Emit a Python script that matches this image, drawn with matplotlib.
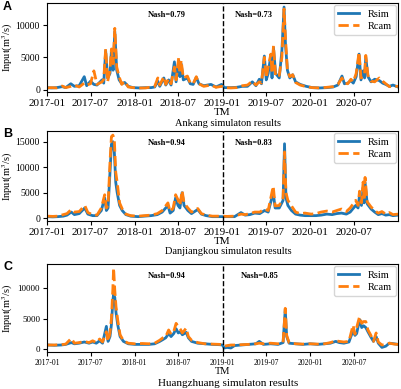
import numpy as np
import pandas as pd
import matplotlib
matplotlib.use("Agg")
import matplotlib.pyplot as plt
import matplotlib.dates as mdates

plt.rcParams['font.family'] = ['Liberation Serif', 'DejaVu Serif']
plt.rcParams['mathtext.fontset'] = 'stix'

# Ankang
dates_a = ["2017-01-01", "2017-01-20", "2017-02-10", "2017-03-05", "2017-03-20", "2017-04-10", "2017-04-25",
           "2017-05-15", "2017-06-05", "2017-06-15", "2017-07-01", "2017-07-15", "2017-07-28", "2017-08-18",
           "2017-08-25", "2017-09-02", "2017-09-10", "2017-09-20", "2017-09-26", "2017-10-03", "2017-10-10",
           "2017-10-18", "2017-10-28", "2017-11-08", "2017-11-20", "2017-12-05", "2017-12-25", "2018-01-20",
           "2018-02-15", "2018-03-10", "2018-03-25", "2018-04-07", "2018-04-15", "2018-05-02", "2018-05-10",
           "2018-05-22", "2018-06-01", "2018-06-15", "2018-06-22", "2018-07-03", "2018-07-08", "2018-07-13",
           "2018-07-22", "2018-08-08", "2018-08-20", "2018-09-01", "2018-09-14", "2018-09-25", "2018-10-15",
           "2018-11-14", "2018-12-05", "2018-12-28", "2019-01-10", "2019-02-05", "2019-03-01", "2019-03-25",
           "2019-04-15", "2019-05-05", "2019-05-20", "2019-06-03", "2019-06-12", "2019-06-24", "2019-07-02",
           "2019-07-10", "2019-07-21", "2019-07-26", "2019-08-01", "2019-08-10", "2019-08-25", "2019-09-05",
           "2019-09-14", "2019-09-20", "2019-09-28", "2019-10-08", "2019-10-20", "2019-11-01", "2019-11-20",
           "2019-12-15", "2020-01-10", "2020-02-10", "2020-03-10", "2020-04-05", "2020-04-25", "2020-05-12",
           "2020-05-22", "2020-06-05", "2020-06-18", "2020-06-28", "2020-07-10", "2020-07-22", "2020-07-30",
           "2020-08-08", "2020-08-14", "2020-08-19", "2020-08-28", "2020-09-10", "2020-09-25", "2020-10-14",
           "2020-10-28", "2020-11-10", "2020-11-25", "2020-12-10", "2020-12-31"]
rsim_a = [300, 250, 300, 450, 300, 900, 500, 600, 2000, 600, 1300, 800, 700, 1500, 1000, 6000, 1800, 2500,
          6000, 3000, 9000, 3000, 1500, 900, 1100, 500, 300, 250, 300, 300, 400, 1300, 500, 1800, 700, 1500,
          700, 4300, 1200, 4500, 2000, 4000, 1500, 1800, 900, 800, 1900, 900, 600, 800, 400, 800, 300, 300,
          350, 500, 500, 1200, 600, 1600, 900, 5200, 1500, 2500, 5300, 1800, 6500, 2500, 1800, 6000, 12800,
          7000, 3000, 1800, 2300, 1200, 800, 500, 300, 250, 300, 400, 700, 2100, 900, 1000, 1400, 1000, 2000,
          5500, 1500, 2900, 1800, 5000, 2000, 1200, 1600, 1400, 1000, 800, 500, 700, 400]
rcam_a = [250, 300, 250, 550, 300, 500, 700, 400, 1000, 700, 900, 2900, 800, 1200, 1600, 6300, 1200, 3000,
          6300, 4000, 9500, 3500, 2000, 800, 1300, 400, 300, 250, 250, 400, 500, 1800, 700, 2000, 800, 1700,
          900, 3500, 1500, 5000, 2500, 4500, 1800, 2100, 1000, 900, 2000, 900, 500, 700, 350, 500, 300, 250,
          300, 600, 700, 1300, 700, 1200, 1000, 5000, 1800, 3500, 5500, 2500, 6800, 2000, 2200, 5000, 12500,
          8000, 3000, 2000, 2300, 1100, 700, 450, 300, 250, 350, 450, 800, 1800, 1000, 900, 1600, 1200, 2500,
          5800, 1800, 2000, 2500, 5300, 2200, 1300, 1200, 1800, 1300, 900, 450, 500, 500]

# Danjiangkou
dates_b = ["2017-01-01", "2017-01-25", "2017-02-15", "2017-03-10", "2017-03-25", "2017-04-12", "2017-04-25",
           "2017-05-15", "2017-06-07", "2017-06-20", "2017-07-10", "2017-07-28", "2017-08-15", "2017-08-29",
           "2017-09-05", "2017-09-12", "2017-09-20", "2017-09-26", "2017-10-02", "2017-10-08", "2017-10-14",
           "2017-10-20", "2017-10-30", "2017-11-10", "2017-11-25", "2017-12-15", "2018-01-15", "2018-02-10",
           "2018-03-10", "2018-04-05", "2018-04-25", "2018-05-19", "2018-05-28", "2018-06-10", "2018-06-20",
           "2018-06-30", "2018-07-08", "2018-07-17", "2018-07-25", "2018-08-10", "2018-08-25", "2018-09-20",
           "2018-10-05", "2018-10-25", "2018-11-20", "2018-12-20", "2019-01-20", "2019-02-20", "2019-03-19",
           "2019-04-05", "2019-04-25", "2019-05-15", "2019-06-05", "2019-06-25", "2019-07-10", "2019-07-31",
           "2019-08-08", "2019-08-25", "2019-09-10", "2019-09-16", "2019-09-22", "2019-09-30", "2019-10-15",
           "2019-11-01", "2019-11-20", "2019-12-10", "2020-01-05", "2020-01-25", "2020-02-15", "2020-03-10",
           "2020-04-01", "2020-04-20", "2020-05-10", "2020-05-30", "2020-06-15", "2020-07-08", "2020-07-18",
           "2020-07-24", "2020-08-01", "2020-08-08", "2020-08-12", "2020-08-16", "2020-08-25", "2020-09-10",
           "2020-09-25", "2020-10-10", "2020-10-25", "2020-11-10", "2020-11-25", "2020-12-10", "2020-12-31"]
rsim_b = [300, 250, 300, 400, 600, 1200, 700, 900, 2000, 800, 500, 500, 1500, 4000, 1500, 2000, 9000, 14500,
          15000, 13000, 7000, 5000, 2500, 1500, 700, 400, 300, 400, 500, 700, 1200, 2500, 1000, 1500, 4000,
          2500, 2000, 5000, 2500, 1500, 900, 1700, 800, 500, 300, 300, 300, 300, 1100, 600, 700, 1000, 900,
          1500, 1200, 5000, 2000, 2000, 3500, 14600, 4000, 2500, 1500, 800, 600, 500, 500, 500, 600, 800,
          700, 900, 1000, 800, 1200, 2500, 2000, 4500, 2500, 6000, 3000, 7000, 2800, 1800, 1200, 700, 900,
          600, 700, 500, 600]
rcam_b = [400, 350, 400, 700, 900, 1700, 1200, 1300, 2500, 1100, 700, 600, 2000, 4600, 2000, 2500, 11000,
          16000, 16300, 15500, 9000, 7000, 3000, 1800, 800, 500, 400, 500, 600, 900, 1500, 3000, 1300, 2000,
          4600, 3600, 2500, 5400, 3000, 2000, 1200, 1900, 900, 600, 400, 400, 350, 400, 800, 700, 900, 1200,
          1200, 1800, 1500, 6300, 2400, 2500, 4000, 13000, 5000, 3500, 2400, 1200, 900, 1000, 800, 900, 1200,
          1400, 1200, 1500, 1800, 1300, 2000, 3500, 2500, 5300, 3000, 7100, 3500, 8000, 3200, 2200, 1500,
          1000, 1300, 800, 1100, 700, 800]

# Huangzhuang
dates_c = ["2017-01-01", "2017-02-01", "2017-03-01", "2017-03-20", "2017-04-12", "2017-04-25", "2017-05-15",
           "2017-06-05", "2017-06-25", "2017-07-10", "2017-07-25", "2017-08-08", "2017-08-20", "2017-09-05",
           "2017-09-12", "2017-09-20", "2017-09-26", "2017-10-02", "2017-10-05", "2017-10-10", "2017-10-15",
           "2017-10-22", "2017-11-01", "2017-11-15", "2017-12-05", "2018-01-01", "2018-02-01", "2018-03-01",
           "2018-03-25", "2018-04-15", "2018-04-28", "2018-05-10", "2018-05-22", "2018-06-01", "2018-06-12",
           "2018-06-22", "2018-07-01", "2018-07-10", "2018-07-18", "2018-08-03", "2018-08-12", "2018-08-25",
           "2018-09-20", "2018-10-20", "2018-11-20", "2018-12-20", "2019-01-01", "2019-01-08", "2019-01-20",
           "2019-02-05", "2019-02-20", "2019-03-20", "2019-04-20", "2019-05-20", "2019-06-03", "2019-06-20",
           "2019-07-20", "2019-08-20", "2019-09-10", "2019-09-19", "2019-09-25", "2019-10-05", "2019-11-01",
           "2019-12-01", "2020-01-01", "2020-02-01", "2020-03-01", "2020-03-25", "2020-04-16", "2020-05-01",
           "2020-05-20", "2020-06-10", "2020-06-27", "2020-07-05", "2020-07-12", "2020-07-24", "2020-08-02",
           "2020-08-10", "2020-08-19", "2020-08-28", "2020-09-08", "2020-09-20", "2020-10-01", "2020-10-10",
           "2020-10-25", "2020-11-10", "2020-11-25", "2020-12-15", "2020-12-31"]
rsim_c = [600, 550, 600, 700, 1000, 800, 900, 1100, 900, 1100, 900, 1300, 900, 3700, 1200, 2000, 4000, 8000,
          9000, 8500, 6000, 4000, 2000, 1200, 800, 700, 700, 700, 800, 1200, 1500, 1800, 2500, 2000, 2500,
          3300, 2600, 2800, 2300, 2700, 1800, 1200, 900, 800, 700, 650, 600, 100, 200, 100, 500, 600, 700,
          800, 1200, 700, 800, 700, 1000, 6500, 2000, 900, 800, 700, 800, 700, 800, 900, 1200, 1000, 900,
          1100, 3000, 2200, 2500, 4800, 3500, 3800, 3500, 2800, 2000, 1200, 2000, 900, 200, 400, 900, 800, 700]
rcam_c = [600, 600, 650, 750, 1700, 900, 1000, 1200, 1000, 1300, 1000, 1600, 1100, 2800, 1200, 2600, 5000,
          10000, 13400, 9700, 7000, 4800, 2300, 1300, 900, 800, 850, 800, 900, 1400, 1800, 2000, 3100, 2400,
          2800, 4200, 3600, 3200, 2600, 3400, 2000, 1400, 1000, 800, 750, 700, 650, 400, 500, 600, 600, 650,
          700, 800, 900, 800, 900, 800, 1000, 6700, 2200, 1000, 800, 750, 800, 750, 800, 1000, 1300, 1200,
          1100, 1200, 3900, 2400, 3500, 5300, 4200, 4500, 4500, 3100, 2300, 1200, 2600, 1100, 600, 700, 900,
          750, 700]

panels = [
    ("A", dates_a, rsim_a, rcam_a, ("Nash=0.79", "Nash=0.73"), "Ankang simulaton results"),
    ("B", dates_b, rsim_b, rcam_b, ("Nash=0.94", "Nash=0.83"), "Danjiangkou simulaton results"),
    ("C", dates_c, rsim_c, rcam_c, ("Nash=0.94", "Nash=0.85"), "Huangzhuang simulaton results"),
]

# axes boxes in pixels (top, bottom) of a 401x389 figure
boxes = [(3, 92), (131, 221), (264, 352)]
W, H = 401, 389

fig = plt.figure(figsize=(4.01, 3.89), dpi=100)

for i, (lab, d, rs, rc, nash, title) in enumerate(panels):
    top, bot = boxes[i]
    ax = fig.add_axes([47 / W, 1 - bot / H, 351 / W, (bot - top) / H])
    t = pd.to_datetime(d)
    ax.plot(t, rs, color="#1f77b4", lw=2, label="Rsim")
    ax.plot(t, rc, color="#ff7f0e", lw=2, ls="--", label="Rcam")
    ax.axvline(pd.Timestamp("2019-01-01"), color="k", ls="--", lw=1)
    ax.set_xlim(pd.Timestamp("2017-01-01"), pd.Timestamp("2020-12-31"))
    ax.xaxis.set_major_locator(mdates.MonthLocator(bymonth=[1, 7]))
    ax.xaxis.set_major_formatter(mdates.DateFormatter("%Y-%m"))
    small = (lab == "C")
    ax.tick_params(axis="x", labelsize=5.5 if small else 8, length=3, pad=2)
    ax.tick_params(axis="y", labelsize=6.5 if small else 7, length=3, pad=2)
    ax.set_ylabel("Input(m$^3$/s)", fontsize=7.5)
    ax.yaxis.set_label_coords(-32 / 351, 0.5)
    ax.set_xlabel("TM", fontsize=8 if not small else 7.5, labelpad=0)
    ax.legend(loc="upper right", fontsize=7.5, handlelength=2.0, borderpad=0.4,
              labelspacing=0.3, borderaxespad=0.2)
    ax.text(0.34, 0.84, nash[0], transform=ax.transAxes, fontsize=6, fontweight="bold", ha="center")
    ax.text(0.59 if not small else 0.605, 0.84, nash[1], transform=ax.transAxes, fontsize=6,
            fontweight="bold", ha="center")
    fig.text(228 / W, 1 - (bot + 31) / H, title, fontsize=8 if small else 7.5, ha="center", va="center")
    fig.text(3 / W, 1 - (top - 3 if i else 1) / H, lab, fontsize=9, fontweight="bold",
             family="Liberation Sans", va="top", ha="left")

fig.savefig("out.png", dpi=100)
